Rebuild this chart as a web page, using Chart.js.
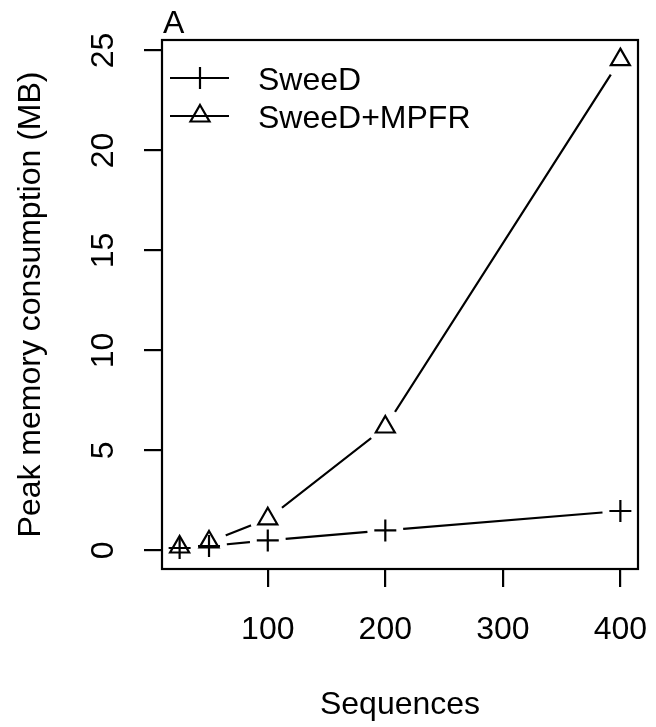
<!DOCTYPE html>
<html lang="en">
<head>
  <meta charset="UTF-8">
  <title>Peak memory consumption</title>
  <style>
    body { margin: 0; background: #fff; }
    #wrap { width: 656px; height: 727px; }
  </style>
</head>
<body>
  <div id="wrap">
    <canvas id="memChart"></canvas>
  </div>

  <script src="https://cdn.jsdelivr.net/npm/chart.js"></script>
  <script>
    // values
    const sequences = [25, 50, 100, 200, 400];
    const sweedMem = [0.12, 0.22, 0.5, 1.0, 1.97];
    const mpfrMem = [0.17, 0.42, 1.58, 6.17, 24.54];
    const seriesNames = ['SweeD', 'SweeD+MPFR'];
    const seriesMarkers = ['cross', 'triangle'];
    const xTicks = [100, 200, 300, 400];
    const yTicks = [0, 5, 10, 15, 20, 25];

    const FONT = '"Liberation Sans", Arial, sans-serif';
    const FS = 32;

    const toPoints = (ys) => sequences.map((x, i) => ({ x: x, y: ys[i] }));

    // line with white discs at the points -> R type="b" gaps
    const gapLine = (ys) => ({
      data: toPoints(ys),
      borderColor: '#000',
      borderWidth: 2.2,
      pointRadius: 18,
      pointBackgroundColor: '#fff',
      pointBorderColor: '#fff',
      pointBorderWidth: 0,
      order: 2
    });

    const markers = (ys, style) => ({
      data: toPoints(ys),
      showLine: false,
      pointStyle: style,
      pointRadius: 11,
      pointBorderColor: '#000',
      pointBackgroundColor: 'rgba(0,0,0,0)',
      pointBorderWidth: 2.2,
      order: 0
    });

    // frame, legend and panel letter
    const extras = {
      id: 'extras',
      afterDraw(chart) {
        const { ctx, chartArea: a } = chart;
        ctx.save();
        ctx.strokeStyle = '#000';
        ctx.lineWidth = 2.2;
        ctx.strokeRect(a.left, a.top, a.right - a.left, a.bottom - a.top);

        ctx.fillStyle = '#000';
        ctx.font = FS + 'px ' + FONT;
        ctx.textBaseline = 'alphabetic';
        ctx.textAlign = 'left';
        ctx.fillText('A', 163, 33);

        const legendY = [78, 116];
        seriesNames.forEach((name, i) => {
          const y = legendY[i];
          ctx.beginPath();
          ctx.moveTo(170, y);
          ctx.lineTo(229, y);
          ctx.lineWidth = 2.2;
          ctx.strokeStyle = '#000';
          ctx.stroke();
          ctx.fillStyle = 'rgba(0,0,0,0)';
          Chart.helpers.drawPoint(ctx, { pointStyle: seriesMarkers[i], radius: 11, borderWidth: 2.2, rotation: 0 }, 200, y);
          ctx.fillStyle = '#000';
          ctx.fillText(name, 258, y + 11.5);
        });
        ctx.restore();
      }
    };

    new Chart(document.getElementById('memChart'), {
      type: 'line',
      data: {
        datasets: [
          markers(sweedMem, seriesMarkers[0]),
          markers(mpfrMem, seriesMarkers[1]),
          gapLine(sweedMem),
          gapLine(mpfrMem)
        ]
      },
      options: {
        responsive: true,
        maintainAspectRatio: false,
        animation: false,
        events: [],
        layout: { padding: { left: 0, right: 13, top: 40, bottom: 0 } },
        plugins: { legend: { display: false }, tooltip: { enabled: false } },
        scales: {
          x: {
            type: 'linear',
            position: 'bottom',
            min: 10,
            max: 415,
            afterBuildTicks: (axis) => { axis.ticks = xTicks.map(v => ({ value: v })); },
            afterFit: (axis) => { axis.height = 158; axis.paddingLeft = 0; axis.paddingRight = 0; },
            border: { display: false },
            grid: { drawOnChartArea: false, drawTicks: true, tickLength: 18, color: '#000', tickColor: '#000', lineWidth: 2.2 },
            ticks: { color: '#000', font: { family: FONT, size: FS }, padding: 24, maxRotation: 0 },
            title: { display: true, text: 'Sequences', color: '#000', font: { family: FONT, size: FS }, padding: { top: 0, bottom: 3 } }
          },
          y: {
            position: 'left',
            min: -0.93,
            max: 25.52,
            afterBuildTicks: (axis) => { axis.ticks = yTicks.map(v => ({ value: v })); },
            afterFit: (axis) => { axis.width = 162; axis.paddingTop = 0; axis.paddingBottom = 0; },
            border: { display: false },
            grid: { drawOnChartArea: false, drawTicks: true, tickLength: 18, color: '#000', tickColor: '#000', lineWidth: 2.2 },
            ticks: { color: '#000', font: { family: FONT, size: FS }, padding: 22, minRotation: 90, maxRotation: 90, crossAlign: 'center' },
            title: { display: true, text: 'Peak memory consumption (MB)', color: '#000', font: { family: FONT, size: FS }, padding: { top: 12, bottom: 0 } }
          }
        }
      },
      plugins: [extras]
    });
  </script>
</body>
</html>
